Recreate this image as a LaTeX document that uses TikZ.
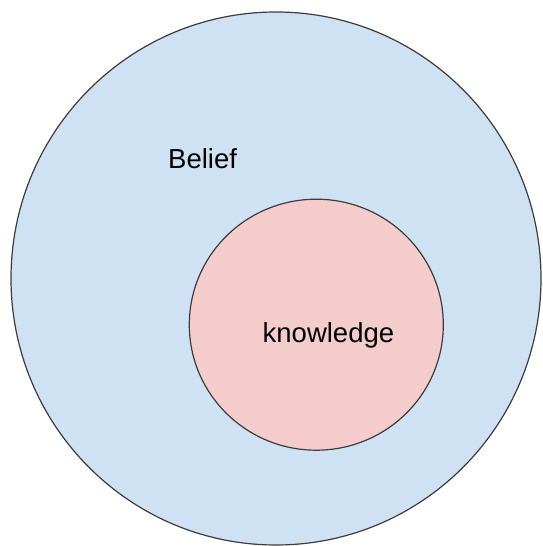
\documentclass[tikz,border=0pt]{standalone}
\usepackage{fontspec}
\setmainfont{Liberation Sans}
\usetikzlibrary{shapes.geometric}
\definecolor{beliefblue}{HTML}{CFE2F3}
\definecolor{knowpink}{HTML}{F4CCCC}
\definecolor{edgegray}{HTML}{3C3C3C}
\tikzset{
  setcircle/.style={ellipse, draw=edgegray, line width=1.2pt, inner sep=0pt},
  lbl/.style={anchor=base west, inner sep=0pt, font=\fontsize{27.5}{33}\selectfont, text=black}
}
\begin{document}
\begin{tikzpicture}[x=1pt,y=-1pt]
\useasboundingbox (0,0) rectangle (543,546);
\node[setcircle, fill=beliefblue, minimum width=530pt, minimum height=533pt] (belief) at (276,278.5) {};
\node[setcircle, fill=knowpink, minimum width=254pt, minimum height=251pt] (knowledge) at (316.3,324.7) {};
\node[lbl] (belieflabel) at (168,168) {Belief};
\node[lbl] (knowlabel) at (262.5,342.5) {knowledge};
\end{tikzpicture}
\end{document}
